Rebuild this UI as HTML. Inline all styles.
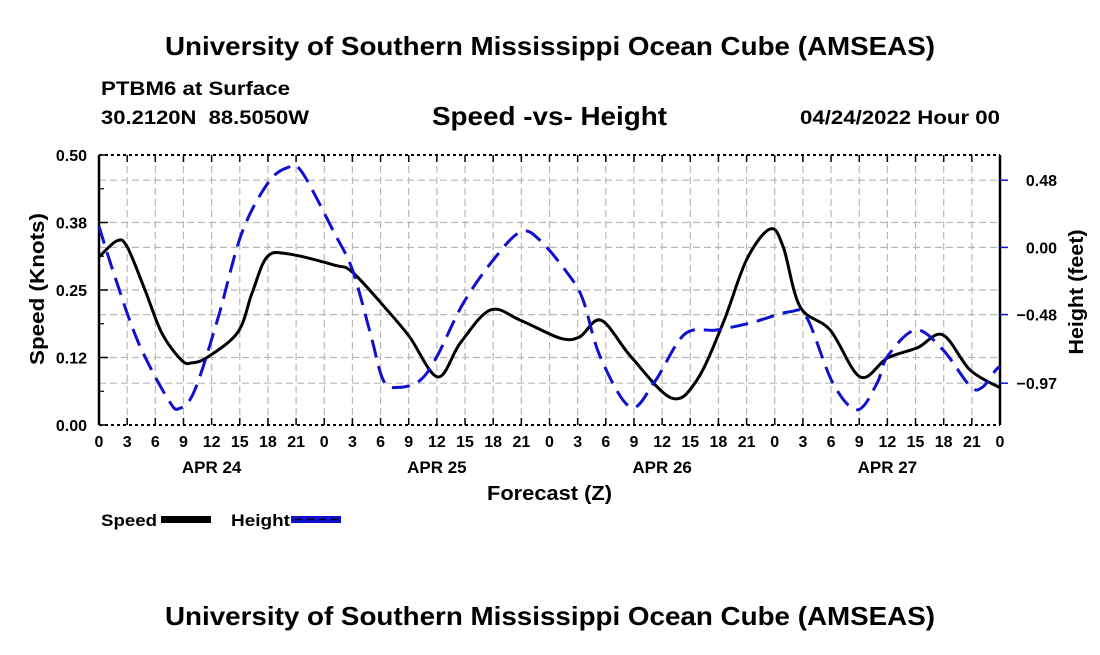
<!DOCTYPE html>
<html><head><meta charset="utf-8"><style>
body{margin:0;background:#fff;width:1100px;height:650px;overflow:hidden;font-family:"Liberation Sans",Arial,sans-serif;}
svg text{font-family:"Liberation Sans",Arial,sans-serif;font-weight:bold;fill:#000;}
</style></head><body>
<svg id="chart" width="1100" height="650" xmlns="http://www.w3.org/2000/svg">
<text x="165" y="55" font-size="26" textLength="770" lengthAdjust="spacingAndGlyphs">University of Southern Mississippi Ocean Cube (AMSEAS)</text>
<text x="101" y="95" font-size="19" textLength="189" lengthAdjust="spacingAndGlyphs">PTBM6 at Surface</text>
<text x="101" y="124" font-size="19" textLength="208" lengthAdjust="spacingAndGlyphs" xml:space="preserve">30.2120N  88.5050W</text>
<text x="432" y="125" font-size="26" textLength="235" lengthAdjust="spacingAndGlyphs">Speed -vs- Height</text>
<text x="800" y="124" font-size="19" textLength="200" lengthAdjust="spacingAndGlyphs">04/24/2022 Hour 00</text>
<g id="grid"></g>
<g id="axes"></g>
<g id="series"></g>
<text transform="translate(44,289) rotate(-90)" font-size="20" text-anchor="middle" textLength="152" lengthAdjust="spacingAndGlyphs">Speed (Knots)</text>
<text transform="translate(1083,292) rotate(-90)" font-size="20" text-anchor="middle" textLength="125" lengthAdjust="spacingAndGlyphs">Height (feet)</text>
<text x="487" y="500" font-size="20" textLength="125" lengthAdjust="spacingAndGlyphs">Forecast (Z)</text>
<g>
<text x="101" y="526" font-size="17" textLength="56" lengthAdjust="spacingAndGlyphs">Speed</text>
<rect x="161" y="516" width="50" height="7" fill="#000"/>
<text x="231" y="526" font-size="17" textLength="59" lengthAdjust="spacingAndGlyphs">Height</text>
<rect x="291" y="516" width="50" height="7" fill="#1010d0"/>
<line x1="295" y1="519.5" x2="341" y2="519.5" stroke="#000" stroke-width="1.5" stroke-dasharray="7,5"/>
</g>
<text x="165" y="625" font-size="26" textLength="770" lengthAdjust="spacingAndGlyphs">University of Southern Mississippi Ocean Cube (AMSEAS)</text>
</svg>
<script>
const speedHours=[0,1.9,3,4.9,6.7,8.8,9.9,11.6,14.8,16.3,17.9,20.1,25.1,27,30.7,33.1,36.1,38.5,41.7,44.9,49.1,51.2,53.5,56.7,61,63.7,66.5,69,71.5,72.9,74.7,77.9,81.1,84,87.2,89.9,92.8,96];
const speedValues=[0.311,0.341,0.33,0.25,0.17,0.12,0.115,0.126,0.172,0.244,0.311,0.317,0.296,0.283,0.213,0.163,0.089,0.152,0.213,0.194,0.161,0.163,0.194,0.126,0.05,0.083,0.189,0.306,0.363,0.33,0.219,0.176,0.089,0.124,0.143,0.167,0.102,0.069];
const heightHours=[0,1.7,4.2,7.4,8.6,10.2,12.7,15.2,18,20.1,21.6,25.1,27,28.9,30.3,31.9,34.2,36,38.8,42,44.9,47,50.2,51.6,53.4,56.6,59.2,62.4,65.8,69.4,73.6,75.4,78.2,80.8,82.9,84,87,89.9,92.8,94.1,95.5,96];
const heightValues=[0.15,-0.21,-0.68,-1.09,-1.15,-1.02,-0.5,0.1,0.46,0.57,0.54,0.1,-0.16,-0.61,-0.95,-1.0,-0.95,-0.78,-0.4,-0.09,0.11,0.05,-0.21,-0.38,-0.78,-1.14,-0.96,-0.62,-0.59,-0.54,-0.46,-0.5,-0.97,-1.16,-0.97,-0.78,-0.59,-0.73,-0.99,-1.0,-0.88,-0.85];
const xTickLabels=["0","3","6","9","12","15","18","21"];
const dayLabels=["APR 24","APR 25","APR 26","APR 27"];
const leftTicks=[0,0.125,0.25,0.375,0.5];
const leftTickLabels=["0.00","0.12","0.25","0.38","0.50"];
const rightTicks=[0.48,0,-0.48,-0.97];
const rightTickLabels=["0.48","0.00","\u22120.48","\u22120.97"];

const L=99,R=1000,T=155,B=425;
const xs=h=>L+h*(R-L)/96;
const yL=v=>B-v*(B-T)/0.5;
const yR=v=>247.4-v*140;
const NS="http://www.w3.org/2000/svg";
function mk(p,tag,a){const e=document.createElementNS(NS,tag);for(const k in a)e.setAttribute(k,a[k]);p.appendChild(e);return e;}
const grid=document.getElementById('grid'),axes=document.getElementById('axes'),series=document.getElementById('series');
const gs={stroke:"#b8b8b8","stroke-width":1.2,"stroke-dasharray":"7,4",fill:"none"};
for(let h=3;h<96;h+=3){const e=mk(grid,'line',Object.assign({x1:xs(h),x2:xs(h),y1:T,y2:B},gs));}
leftTicks.slice(1,-1).forEach(v=>{const e=mk(grid,'line',Object.assign({x1:L,x2:R,y1:yL(v),y2:yL(v)},gs));});
rightTicks.forEach(v=>{const e=mk(grid,'line',Object.assign({x1:L,x2:R,y1:yR(v),y2:yR(v)},gs));});
mk(axes,'line',{x1:L,x2:L,y1:T,y2:B,stroke:"#000","stroke-width":2.5});
mk(axes,'line',{x1:R,x2:R,y1:T,y2:B,stroke:"#000","stroke-width":2.5});
mk(axes,'line',{x1:L,x2:R,y1:T,y2:T,stroke:"#000","stroke-width":2,"stroke-dasharray":"3,3"});
mk(axes,'line',{x1:L,x2:R,y1:B,y2:B,stroke:"#000","stroke-width":2,"stroke-dasharray":"3,3"});
for(let h=0;h<=96;h+=3){
 mk(axes,'line',{x1:xs(h),x2:xs(h),y1:B,y2:B-7,stroke:"#000","stroke-width":1.5});
 mk(axes,'line',{x1:xs(h),x2:xs(h),y1:T,y2:T+7,stroke:"#000","stroke-width":1.5});
 const t=mk(axes,'text',{x:xs(h),y:B+22,"font-size":16,"text-anchor":"middle"});t.textContent=xTickLabels[(h/3)%8];
 
}
dayLabels.forEach((d,i)=>{const t=mk(axes,'text',{x:xs(12+24*i),y:B+48,"font-size":17,"text-anchor":"middle"});t.textContent=d;});
leftTicks.forEach((v,i)=>{mk(axes,'line',{x1:L,x2:L+9,y1:yL(v),y2:yL(v),stroke:"#000","stroke-width":1.5});
 const t=mk(axes,'text',{x:L-12,y:yL(v)+6,"font-size":16,"text-anchor":"end"});t.textContent=leftTickLabels[i];});
for(let k=1;k<8;k+=2){const v=k*0.0625;mk(axes,'line',{x1:L,x2:L+5,y1:yL(v),y2:yL(v),stroke:"#000","stroke-width":1.2});}
rightTicks.forEach((v,i)=>{mk(axes,'line',{x1:R,x2:R+8,y1:yR(v),y2:yR(v),stroke:"#1010c0","stroke-width":1.5});
 const t=mk(axes,'text',{x:1057,y:yR(v)+6,"font-size":16,"text-anchor":"end"});t.textContent=rightTickLabels[i];});
function smooth(pts){let d=`M${pts[0][0]},${pts[0][1]}`;for(let i=0;i<pts.length-1;i++){const p0=pts[Math.max(0,i-1)],p1=pts[i],p2=pts[i+1],p3=pts[Math.min(pts.length-1,i+2)];
 d+=` C${p1[0]+(p2[0]-p0[0])/6},${p1[1]+(p2[1]-p0[1])/6} ${p2[0]-(p3[0]-p1[0])/6},${p2[1]-(p3[1]-p1[1])/6} ${p2[0]},${p2[1]}`;}return d;}
const sp=mk(series,'path',{d:smooth(speedHours.map((h,i)=>[xs(h),yL(speedValues[i])])),stroke:"#000","stroke-width":3,fill:"none","stroke-linejoin":"round"});

const hp=mk(series,'path',{d:smooth(heightHours.map((h,i)=>[xs(h),yR(heightValues[i])])),stroke:"#1010d0","stroke-width":3,fill:"none","stroke-dasharray":"18,9"});

</script>
</body></html>
